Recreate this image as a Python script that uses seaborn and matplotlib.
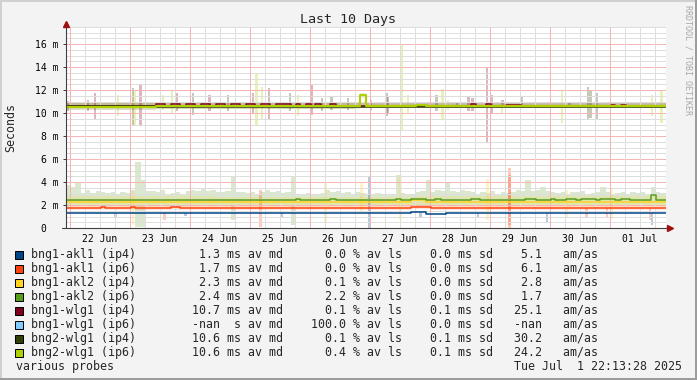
import numpy as np
import pandas as pd
import matplotlib
matplotlib.use("Agg")
import matplotlib.pyplot as plt
import matplotlib.dates as mdates
from matplotlib.patches import Rectangle
import seaborn as sns

# ---------------- data (milliseconds) ----------------
start = pd.Timestamp("2025-06-21 22:13:28")
end = pd.Timestamp("2025-07-01 22:13:28")
edges = pd.date_range(start, end, periods=121)  # 2 hour steps

names = ["bng1-akl1 (ip4)", "bng1-akl1 (ip6)", "bng1-akl2 (ip4)", "bng1-akl2 (ip6)",
         "bng1-wlg1 (ip4)", "bng1-wlg1 (ip6)", "bng2-wlg1 (ip4)", "bng2-wlg1 (ip6)"]
colors = ["#004586", "#ff420e", "#ffd320", "#579d1c",
          "#7e0021", "#83caff", "#314004", "#aecf00"]

# legend stats
stat_med = ["1.3", "1.7", "2.3", "2.4", "10.7", "-nan", "10.6", "10.6"]
stat_unit = ["ms", "ms", "ms", "ms", "ms", " s", "ms", "ms"]
stat_loss = ["0.0", "0.0", "0.1", "2.2", "0.1", "100.0", "0.1", "0.4"]
stat_sd = ["0.0", "0.0", "0.0", "0.0", "0.1", "0.0", "0.1", "0.1"]
stat_amas = ["5.1", "6.1", "2.8", "1.7", "25.1", "-nan", "30.2", "24.2"]

# median lines, one value per 2h step
akl1_v4 = [1.3] * 69 + [1.37] * 3 + [1.25] * 4 + [1.3] * 44
akl1_v6 = [1.7] * 7 + [1.8] + [1.7] * 5 + [1.8] + [1.7] * 7 + [1.8] * 2 + [1.7] * 46 + [1.85] * 4 + [1.7] * 47
akl2_v4 = [2.3] * 69 + [2.4] * 3 + [2.3] * 48
akl2_v6 = ([2.4] * 46 + [2.5] + [2.4] * 6 + [2.5] + [2.4] * 12 + [2.5] + [2.4] * 2 + [2.5] * 3
           + [2.4] * 2 + [2.5] + [2.4] * 6 + [2.5] * 2 + [2.4] * 9 + [2.5] * 2 + [2.4] * 3 + [2.5]
           + [2.4] * 2 + [2.5] * 2 + [2.4] + [2.5] * 3 + [2.4] + [2.5] * 3 + [2.4] + [2.5] * 2
           + [2.4] * 4 + [2.85] + [2.4] * 2)
wlg1_v4 = ([10.6] * 18
           + [10.75, 10.75, 10.62, 10.75, 10.75, 10.62, 10.75, 10.75, 10.62, 10.75, 10.75, 10.62, 10.75,
              10.75, 10.62, 10.75, 10.75, 10.62, 10.75, 10.75, 10.62, 10.75, 10.75, 10.62, 10.75, 10.75]
           + [10.75, 10.6, 10.75, 10.6, 10.75, 10.6, 10.75, 10.6, 10.6, 10.75]
           + [10.6] * 27 + [10.75] + [10.6] * 2 + [10.75] + [10.6] * 3 + [10.72] * 3
           + [10.6] * 18 + [10.72] + [10.6] + [10.72] + [10.6] * 8)
wlg2_v4 = [10.62] * 18 + [10.55] * 102
wlg2_v6 = [10.52] * 18 + [10.6] * 41 + [11.55] + [10.6] * 10 + [10.68] * 2 + [10.6] * 48

# smoke bands (low / high per 2h step)
akl2_v6_top = [3.7, 3.55, 3.9, 3.05, 3.3, 3.05, 3.2, 3.1, 3.05, 3.15,
               3.0, 3.1, 3.05, 3.3, 5.7, 4.2, 3.2, 3.25, 3.15, 3.3,
               3.0, 3.05, 3.1, 3.0, 3.2, 3.3, 3.25, 3.35, 3.2, 3.3,
               3.15, 3.1, 3.2, 4.45, 3.1, 3.1, 3.05, 3.15, 3.0, 3.1,
               3.3, 3.1, 3.2, 3.05, 3.15, 4.5, 3.0, 2.95, 3.05, 2.9,
               3.0, 3.05, 3.3, 3.1, 3.2, 3.05, 3.1, 3.0, 3.15, 3.05,
               3.0, 2.95, 3.05, 3.0, 2.9, 3.0, 4.6, 3.05, 2.9, 2.95,
               3.1, 3.2, 4.2, 3.1, 3.3, 3.2, 3.9, 3.25, 3.1, 3.3,
               3.2, 3.15, 3.0, 3.1, 3.05, 3.2, 3.0, 3.1, 3.05, 3.15,
               3.3, 3.2, 4.2, 3.25, 3.3, 3.6, 3.2, 3.15, 3.05, 3.1,
               3.0, 3.15, 3.1, 3.2, 3.0, 3.05, 3.1, 3.6, 3.1, 3.0,
               3.05, 3.1, 3.0, 3.15, 3.05, 3.1, 3.0, 3.6, 3.1, 3.05]
akl2_v6_bot = [2.0] * 14 + [0.1, 0.1] + [2.0] * 17 + [0.7] + [2.0] * 11 + [0.3] + [2.0] * 74
akl2_v4_bot = [1.85] * 120
akl2_v4_top = [2.8] * 30 + [2.7] * 40 + [2.75] * 50
akl1_v6_bot = [1.55] * 69 + [1.65] * 4 + [1.55] * 47
akl1_v6_top = [1.9] * 69 + [2.0] * 4 + [1.9] * 47
wlg1_v4_bot = [10.45] * 18 + [10.5] * 102
wlg1_v4_top = [10.9] * 18 + [11.0] * 36 + [10.9] * 66
wlg2_v4_bot = [10.25] * 18 + [10.35] * 40 + [10.4] * 62
wlg2_v4_top = [11.0] * 18 + [10.9] * 40 + [10.85] * 62
wlg2_v6_bot = [10.35] * 59 + [11.3] + [10.4] * 60
wlg2_v6_top = [10.85] * 59 + [11.75] + [10.8] * 60

# short smoke spikes: (hours after start, low, high)
spikes = {
    0: [(86.6, 0.85, 1.3), (121.4, 0.0, 4.46), (165, 0.85, 1.3), (192.6, 0.5, 1.3),
        (234.6, 0.3, 1.3), (20, 1.0, 1.3), (48, 1.05, 1.3), (142, 1.0, 1.3)],
    1: [(39.8, 0.7, 1.5), (78.2, 0.1, 3.3), (177.8, 0.0, 5.2), (177.8, 0.3, 4.6),
        (208.6, 0.85, 1.7), (216.6, 0.85, 1.7), (233.8, 0.7, 1.7)],
    2: [(27, 0.3, 3.2), (103.8, 0.55, 4.0), (118.6, 1.5, 3.9), (133.8, 0.7, 4.6),
        (169, 0.7, 4.3), (200.6, 1.0, 3.3), (218.6, 0.8, 3.5)],
    4: [(9.0, 10.2, 11.1), (11.8, 9.5, 11.7), (30.2, 8.9, 12.5), (44.6, 10.2, 11.7),
        (57.8, 10.2, 11.6), (75, 9.9, 11.7), (81.4, 9.5, 12.2), (98.6, 9.8, 12.5),
        (122.2, 10.3, 11.1), (129, 10.0, 11.4), (161.4, 10.2, 11.4), (163, 10.2, 11.3),
        (168.6, 7.5, 14.0), (170.6, 9.9, 11.6), (175, 10.5, 11.1)],
    6: [(1, 10.2, 11.0), (27, 8.9, 12.2), (51, 9.8, 11.7), (65, 10.2, 11.6),
        (89.8, 10.2, 11.7), (102.6, 10.2, 11.3), (106.6, 10.3, 11.5), (113, 10.3, 11.3),
        (128.6, 9.7, 11.7), (148.6, 10.2, 11.6), (156.6, 10.5, 10.9), (182.6, 10.4, 11.4),
        (201.8, 10.5, 10.9), (209, 9.4, 12.3), (210, 9.6, 12.0), (212.6, 9.4, 11.7)],
    7: [(21, 9.7, 11.6), (27.8, 8.9, 12.0), (39, 10.3, 11.6), (42.6, 9.9, 12.0),
        (76.6, 9.0, 13.5), (78.6, 9.4, 12.3), (93, 9.7, 11.6), (134.6, 8.4, 15.9),
        (137, 10.0, 11.6), (151, 9.5, 12.1), (153, 10.3, 11.1), (174.6, 10.0, 11.0),
        (198.6, 9.1, 12.0), (234.6, 9.7, 11.6), (238.6, 9.1, 12.0)],
}

medians = {0: akl1_v4, 1: akl1_v6, 2: akl2_v4, 3: akl2_v6, 4: wlg1_v4, 6: wlg2_v4, 7: wlg2_v6}
bands = [(3, akl2_v6_bot, akl2_v6_top, 0.22), (2, akl2_v4_bot, akl2_v4_top, 0.17),
         (1, akl1_v6_bot, akl1_v6_top, 0.15), (6, wlg2_v4_bot, wlg2_v4_top, 0.17),
         (7, wlg2_v6_bot, wlg2_v6_top, 0.17), (4, wlg1_v4_bot, wlg1_v4_top, 0.15)]

ytick_vals = [0, 2, 4, 6, 8, 10, 12, 14, 16]
ytick_labels = ["0  ", "2 m", "4 m", "6 m", "8 m", "10 m", "12 m", "14 m", "16 m"]
xtick_days = pd.date_range("2025-06-22 12:00", periods=10, freq="D")
xtick_labels = ["22 Jun", "23 Jun", "24 Jun", "25 Jun", "26 Jun",
                "27 Jun", "28 Jun", "29 Jun", "30 Jun", "01 Jul"]

# ---------------- plot ----------------
W, H = 697, 380
sns.set_theme(style="white")
plt.rcParams["font.family"] = ["DejaVu Sans Mono", "DejaVu Sans"]

fig = plt.figure(figsize=(W / 100, H / 100), dpi=100, facecolor="#f3f3f3")
ax = fig.add_axes([65.5 / W, 1 - 228 / H, 600 / W, 201.25 / H])
ax.set_facecolor("white")

x = mdates.date2num(edges)

for i, lo, hi, a in bands:
    ax.fill_between(x, lo + [lo[-1]], hi + [hi[-1]], step="post",
                    color=colors[i], alpha=a, lw=0, zorder=1)

for i, sp in spikes.items():
    sx = [mdates.date2num(start + pd.Timedelta(hours=h)) for h, _, _ in sp]
    ax.bar(sx, [b - a for _, a, b in sp], bottom=[a for _, a, _ in sp],
           width=1.2 / 24, color=colors[i], alpha=0.28, lw=0, zorder=1)

# grid: rrdtool draws 1px dotted lines, rendered here as their lighter average tone
for v in np.arange(0.5, 17.6, 0.5):
    major = v % 2 == 0
    ax.axhline(v, color="#f6b4b4" if major else "#dedede", lw=0.72,
               antialiased=False, zorder=1.5)
for t in pd.date_range("2025-06-22", "2025-07-01 18:00", freq="6h"):
    major = t.hour == 0
    ax.axvline(mdates.date2num(t), color="#f6b4b4" if major else "#dedede",
               lw=0.72, antialiased=False, zorder=1.5)

rows = []
for i, vals in medians.items():
    rows.append(pd.DataFrame({"t": x, "ms": vals + [vals[-1]], "target": names[i]}))
df = pd.concat(rows, ignore_index=True)
order = [names[i] for i in medians]
sns.lineplot(data=df, x="t", y="ms", hue="target", hue_order=order,
             palette={names[i]: colors[i] for i in medians}, estimator=None,
             drawstyle="steps-post", linewidth=1.1, legend=False, ax=ax, zorder=3)
ax.lines[-1].set_linewidth(1.5)  # lime line sits on top and reads thicker

ax.set_xlim(x[0], x[-1])
ax.set_ylim(0, 17.5)
for s in ax.spines.values():
    s.set_visible(False)
ax.set_xlabel("")
ax.set_ylabel("")

ax.set_yticks(ytick_vals)
ax.set_yticklabels(ytick_labels)
ax.set_xticks(mdates.date2num(xtick_days))
ax.set_xticklabels(xtick_labels)
ax.tick_params(axis="x", length=0, pad=4.3, labelsize=7, colors="black")
ax.tick_params(axis="y", length=2.2, width=0.72, pad=3, labelsize=7,
               color="#404040", labelcolor="black", left=True)

# axis lines with red arrow heads
ax.plot([x[0], x[0]], [0, 17.7], color="#404040", lw=0.8, clip_on=False, zorder=4)
ax.plot([x[0] - 0.06, x[-1] + 0.05], [0, 0], color="#404040", lw=0.8, clip_on=False, zorder=4)
ax.plot([x[0]], [17.75], marker="^", ms=4, color="#a01010", clip_on=False, zorder=5)
ax.plot([x[-1] + 0.07], [0], marker=">", ms=4, color="#a01010", clip_on=False, zorder=5)

# texts
fig.text(348 / W, 1 - 19 / H, "Last 10 Days", ha="center", va="center", fontsize=9.6)
fig.text(11 / W, 1 - 128 / H, "Seconds", ha="center", va="center", rotation=90, fontsize=8.4)
fig.text(688 / W, 1 - 60 / H, "RRDTOOL / TOBI OETIKER", ha="center", va="center",
         rotation=270, fontsize=6, color="#a8a8a8")

for k, nm in enumerate(names):
    yc = 254.7 + 14 * k
    fig.add_artist(Rectangle((15 / W, 1 - (yc + 4) / H), 8 / W, 8 / H,
                             transform=fig.transFigure, facecolor=colors[k],
                             edgecolor="black", lw=0.72))
    line = (f"{nm:<15}{stat_med[k]:>12} {stat_unit[k]} av md{stat_loss[k]:>9} % av ls"
            f"{stat_sd[k]:>7} ms sd{stat_amas[k]:>7}   am/as")
    fig.text(31 / W, 1 - yc / H, line, ha="left", va="center", fontsize=8.4)

fig.text(16 / W, 1 - 366.7 / H, "various probes", ha="left", va="center", fontsize=8.4)
fig.text(682 / W, 1 - 366.7 / H, "Tue Jul  1 22:13:28 2025", ha="right", va="center", fontsize=8.4)

# 3d frame
fig.add_artist(Rectangle((0, 1 - 2 / H), 1, 2 / H, transform=fig.transFigure, color="#d0d0d0", lw=0))
fig.add_artist(Rectangle((0, 0), 2 / W, 1, transform=fig.transFigure, color="#d0d0d0", lw=0))
fig.add_artist(Rectangle((0, 0), 1, 2 / H, transform=fig.transFigure, color="#9c9c9c", lw=0))
fig.add_artist(Rectangle((1 - 2 / W, 0), 2 / W, 1, transform=fig.transFigure, color="#9c9c9c", lw=0))

fig.savefig("out.png", dpi=100, facecolor=fig.get_facecolor())
